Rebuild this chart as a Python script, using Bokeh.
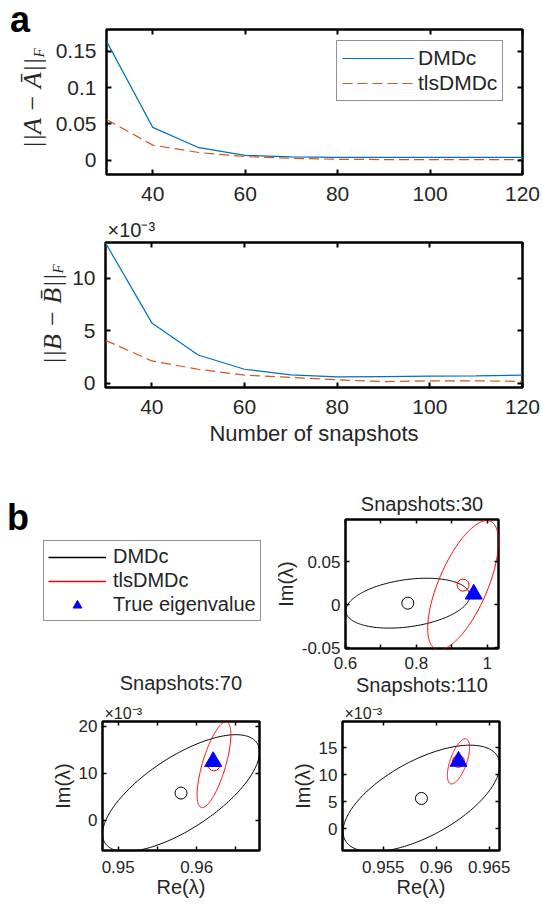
import numpy as np
from bokeh.plotting import figure
from bokeh.layouts import column, row
from bokeh.models import (Range1d, FixedTicker, NumeralTickFormatter, LinearAxis,
                          Label, Legend, LegendItem, Title)
from bokeh.embed import file_html
from bokeh.resources import INLINE

# ---------------- panel a: model error vs. number of snapshots ----------------
snapshots = [30, 40, 50, 60, 70, 80, 90, 100, 110, 120]
err_A_dmdc = [0.164, 0.045, 0.017, 0.0065, 0.0042, 0.0035, 0.0035, 0.0035, 0.0035, 0.0035]
err_A_tls = [0.056, 0.0205, 0.0103, 0.0047, 0.0023, 0.0010, 0.0006, 0.0005, 0.0005, 0.0005]
# ||B - B_bar||_F in units of 1e-3
err_B_dmdc = [13.35, 5.75, 2.70, 1.35, 0.82, 0.63, 0.66, 0.69, 0.72, 0.79]
err_B_tls = [4.10, 2.14, 1.35, 0.79, 0.57, 0.35, 0.18, 0.25, 0.25, 0.20]

# ---------------- panel b: eigenvalue estimates ----------------
snap_cases = [30, 70, 110]
true_re = 0.9621
true_im = 0.0125
dmdc_re = [0.776, 0.958, 0.9586]
dmdc_im = [0.002, 0.0058, 0.0056]
dmdc_half_re = [0.175, 0.0100, 0.0074]
dmdc_half_im = [0.029, 0.0124, 0.0099]
dmdc_corr = [0.30, 0.70, 0.62]
tls_re = [0.932, 0.9622, 0.9621]
tls_im = [0.023, 0.0118, 0.0125]
tls_half_re = [0.100, 0.00215, 0.00105]
tls_half_im = [0.075, 0.0091, 0.0042]
tls_corr = [0.67, 0.70, 0.62]

FONT = "Liberation Sans"
MATH_FONT = "Liberation Serif"
TXT = "#262626"
BLUE = "#0072BD"
ORANGE = "#D95319"
RED = "#FF0000"
TRI_BLUE = "#0000FF"


def ellipse_outline(cx, cy, hx, hy, rho, n=240):
    """Tilted ellipse given its half extents along x/y and their correlation."""
    t = np.linspace(0.0, 2.0 * np.pi, n)
    phi = np.arccos(rho)
    return cx + hx * np.cos(t), cy + hy * np.cos(t - phi)


def new_fig(w, h, xr, yr, left, right, top, bottom):
    return figure(width=w, height=h, x_range=Range1d(*xr), y_range=Range1d(*yr),
                  toolbar_location=None, output_backend="svg",
                  min_border_left=left, min_border_right=right,
                  min_border_top=top, min_border_bottom=bottom,
                  background_fill_color="white", border_fill_color="white")


def blank_fig(w, h, left=0, right=0, top=0, bottom=0, xr=(0, 1), yr=(0, 1)):
    return figure(width=w, height=h, x_range=Range1d(*xr), y_range=Range1d(*yr),
                  x_axis_type=None, y_axis_type=None, toolbar_location=None,
                  output_backend="svg", min_border_left=left, min_border_right=right,
                  min_border_top=top, min_border_bottom=bottom,
                  outline_line_color=None, background_fill_color="white",
                  border_fill_color="white")


def box_axes(p, xt, yt, xm=(), ym=(), font_px=17, tick_len=4, tick_w=1.5,
             xs=10, ys=5, fmt="0.[000]"):
    xax, yax = p.below[0], p.left[0]
    p.outline_line_color = "black"
    p.outline_line_width = 2.5
    p.xgrid.visible = False
    p.ygrid.visible = False
    xax.ticker = FixedTicker(ticks=list(xt), minor_ticks=list(xm))
    yax.ticker = FixedTicker(ticks=list(yt), minor_ticks=list(ym))
    for ax, st in ((xax, xs), (yax, ys)):
        ax.formatter = NumeralTickFormatter(format=fmt)
        ax.axis_line_color = None
        ax.major_tick_in = tick_len
        ax.major_tick_out = 0
        ax.minor_tick_in = tick_len
        ax.minor_tick_out = 0
        ax.major_tick_line_width = tick_w
        ax.minor_tick_line_width = tick_w
        ax.major_tick_line_color = "black"
        ax.minor_tick_line_color = "black"
        ax.major_label_text_font = FONT
        ax.major_label_text_font_size = f"{font_px}px"
        ax.major_label_text_color = TXT
        ax.major_label_standoff = st
    # mirrored tick marks on the top and right edges of the box
    mirror = dict(axis_line_color=None, major_tick_in=0, major_tick_out=0,
                  minor_tick_in=tick_len, minor_tick_out=0,
                  minor_tick_line_width=tick_w, minor_tick_line_color="black",
                  major_label_standoff=0)
    p.add_layout(LinearAxis(ticker=FixedTicker(ticks=[], minor_ticks=sorted(list(xt) + list(xm))),
                            **mirror), "above")
    p.add_layout(LinearAxis(ticker=FixedTicker(ticks=[], minor_ticks=sorted(list(yt) + list(ym))),
                            **mirror), "right")
    return xax, yax


def axis_title(ax, text, size, standoff):
    ax.axis_label = text
    ax.axis_label_text_font = FONT
    ax.axis_label_text_font_size = f"{size}px"
    ax.axis_label_text_font_style = "normal"
    ax.axis_label_text_color = TXT
    ax.axis_label_standoff = standoff


def frame_label(p, x, y, text, size, **kw):
    opts = dict(x=x, y=y, x_units="screen", y_units="screen", text=text,
                text_font=FONT, text_font_size=f"{size}px", text_color=TXT,
                text_baseline="alphabetic")
    opts.update(kw)
    p.add_layout(Label(**opts))


def side_title(p, text, size, standoff, align="left", offset=0, side="above",
               valign="bottom", **kw):
    opts = dict(text=text, align=align, offset=offset, vertical_align=valign,
                standoff=standoff, text_font=FONT, text_font_size=f"{size}px",
                text_color=TXT, text_font_style="normal")
    opts.update(kw)
    p.add_layout(Title(**opts), side)


# ---- ||A - A_bar|| ----
pA = new_fig(490, 212, (30, 120), (-0.02, 0.18), 51, 20, 29, 38)
rA1 = pA.line(snapshots, err_A_dmdc, line_color=BLUE, line_width=1.2)
rA2 = pA.line(snapshots, err_A_tls, line_color=ORANGE, line_width=1.2, line_dash="10 5")
box_axes(pA, [40, 60, 80, 100, 120], [0, 0.05, 0.1, 0.15], font_px=21, tick_len=5,
         tick_w=2, xs=12, ys=10)
legA = Legend(items=[LegendItem(label="DMDc", renderers=[rA1]),
                     LegendItem(label="tlsDMDc", renderers=[rA2])],
              location=(230, 73), label_text_font=FONT, label_text_font_size="21px",
              label_text_color=TXT, glyph_width=72, glyph_height=22, label_height=22,
              label_standoff=4, padding=5, spacing=1, margin=0,
              border_line_color=TXT, border_line_width=1,
              background_fill_color="white", background_fill_alpha=1.0)
pA.add_layout(legA)

# y label and panel letter to the left of the first box
sA = blank_fig(52, 212, top=29, bottom=38)
frame_label(sA, 32, 117, "||A − Ā||", 26, text_font=MATH_FONT,
            text_font_style="italic", angle=np.pi / 2, text_align="right")
frame_label(sA, 38.5, 117, "F", 15, text_font=MATH_FONT,
            text_font_style="italic", angle=np.pi / 2, text_align="left")
side_title(sA, "a", 36, -20.2, offset=9.5, text_font_style="bold", text_color="black")

# ---- ||B - B_bar|| ----
pB = new_fig(473, 245, (30, 120), (-0.38, 13.38), 34, 20, 30, 70)
pB.line(snapshots, err_B_dmdc, line_color=BLUE, line_width=1.2)
pB.line(snapshots, err_B_tls, line_color=ORANGE, line_width=1.2, line_dash="10 5")
xB, yB = box_axes(pB, [40, 60, 80, 100, 120], [0, 5, 10], font_px=21, tick_len=5,
                  tick_w=2, xs=12, ys=10)
axis_title(xB, "Number of snapshots", 22, 4)
side_title(pB, "×10⁻³", 20, 2.6, offset=2)

sB = blank_fig(69, 245, top=30, bottom=70)
frame_label(sB, 51.5, 114, "||B − B\u0304||", 26, text_font=MATH_FONT,
            text_font_style="italic", angle=np.pi / 2, text_align="right")
frame_label(sB, 57, 114, "F", 15, text_font=MATH_FONT,
            text_font_style="italic", angle=np.pi / 2, text_align="left")

# ---- legend and panel letter b (sample glyphs sit outside the visible range) ----
pL = blank_fig(271, 243, top=62, bottom=52, xr=(2, 3), yr=(2, 3))
rk = pL.line([dmdc_re[0]], [dmdc_im[0]], line_color="black", line_width=1.3)
rr = pL.line([tls_re[0]], [tls_im[0]], line_color=RED, line_width=1.3)
rt = pL.scatter([true_re], [true_im], marker="triangle", size=17, fill_color=TRI_BLUE,
                line_color=TRI_BLUE)
legB = Legend(items=[LegendItem(label="DMDc", renderers=[rk]),
                     LegendItem(label="tlsDMDc", renderers=[rr]),
                     LegendItem(label="True eigenvalue", renderers=[rt])],
              location=(43, 27), label_text_font=FONT, label_text_font_size="20px",
              label_text_color=TXT, glyph_width=58, glyph_height=22, label_height=22,
              label_standoff=7, padding=4, spacing=1, margin=0,
              border_line_color=TXT, border_line_width=1,
              background_fill_color="white", background_fill_alpha=1.0)
pL.add_layout(legB)
side_title(pL, "b", 36, -37.2, offset=6.5, text_font_style="bold", text_color="black")
# title of the lower-left panel; the leading blank line keeps it low in this strip
side_title(pL, f"\nSnapshots:{snap_cases[1]}", 20, 0.4, offset=119.2, side="below")


def eig_panel(k, w, h, xr, yr, borders, xt, yt, xm, im_scale, xs):
    p = new_fig(w, h, xr, yr, *borders)
    ex, ey = ellipse_outline(dmdc_re[k], dmdc_im[k], dmdc_half_re[k], dmdc_half_im[k], dmdc_corr[k])
    p.line(ex, ey * im_scale, line_color="black", line_width=1)
    ex, ey = ellipse_outline(tls_re[k], tls_im[k], tls_half_re[k], tls_half_im[k], tls_corr[k])
    p.line(ex, ey * im_scale, line_color=RED, line_width=1)
    p.scatter([dmdc_re[k]], [dmdc_im[k] * im_scale], marker="circle", size=12,
              fill_color=None, line_color="black", line_width=1)
    p.scatter([tls_re[k]], [tls_im[k] * im_scale], marker="circle", size=12,
              fill_color=None, line_color=RED, line_width=1)
    p.scatter([true_re], [true_im * im_scale], marker="triangle", size=17,
              fill_color=TRI_BLUE, line_color=TRI_BLUE)
    xax, yax = box_axes(p, xt, yt, xm=xm, font_px=17, tick_len=4, tick_w=1.5, xs=xs, ys=5)
    axis_title(yax, "Im(λ)", 20, 2)
    return p, xax


p30, _ = eig_panel(0, 271, 243, (0.6, 1.032), (-0.0507, 0.0993), (71, 44, 62, 52),
                   [0.6, 0.8, 1.0], [-0.05, 0, 0.05], [0.7, 0.9], 1.0, 8)
side_title(p30, f"Snapshots:{snap_cases[0]}", 20, 8.6, align="center")
# title of the panel underneath, hung below this panel's tick labels
side_title(p30, f"Snapshots:{snap_cases[2]}", 20, 1.2, align="center", side="below")

p70, x70 = eig_panel(1, 271, 206, (0.948, 0.968), (-6.4, 21.0), (102, 12, 21, 56),
                     [0.95, 0.96], [0, 10, 20], [0.955, 0.965], 1000.0, 10)
axis_title(x70, "Re(λ)", 20, 0)
side_title(p70, "×10⁻³", 16, -0.8, offset=2)

p110, x110 = eig_panel(2, 271, 206, (0.95115, 0.96597), (-4.07, 19.9), (71, 43, 21, 56),
                       [0.955, 0.96, 0.965], [0, 5, 10, 15], [], 1000.0, 10)
axis_title(x110, "Re(λ)", 20, 0)
side_title(p110, "×10⁻³", 16, -0.8, offset=2)

layout = column(row(sA, pA), row(sB, pB), row(pL, p30), row(p70, p110))
open("out.html", "w").write(file_html(layout, INLINE))
